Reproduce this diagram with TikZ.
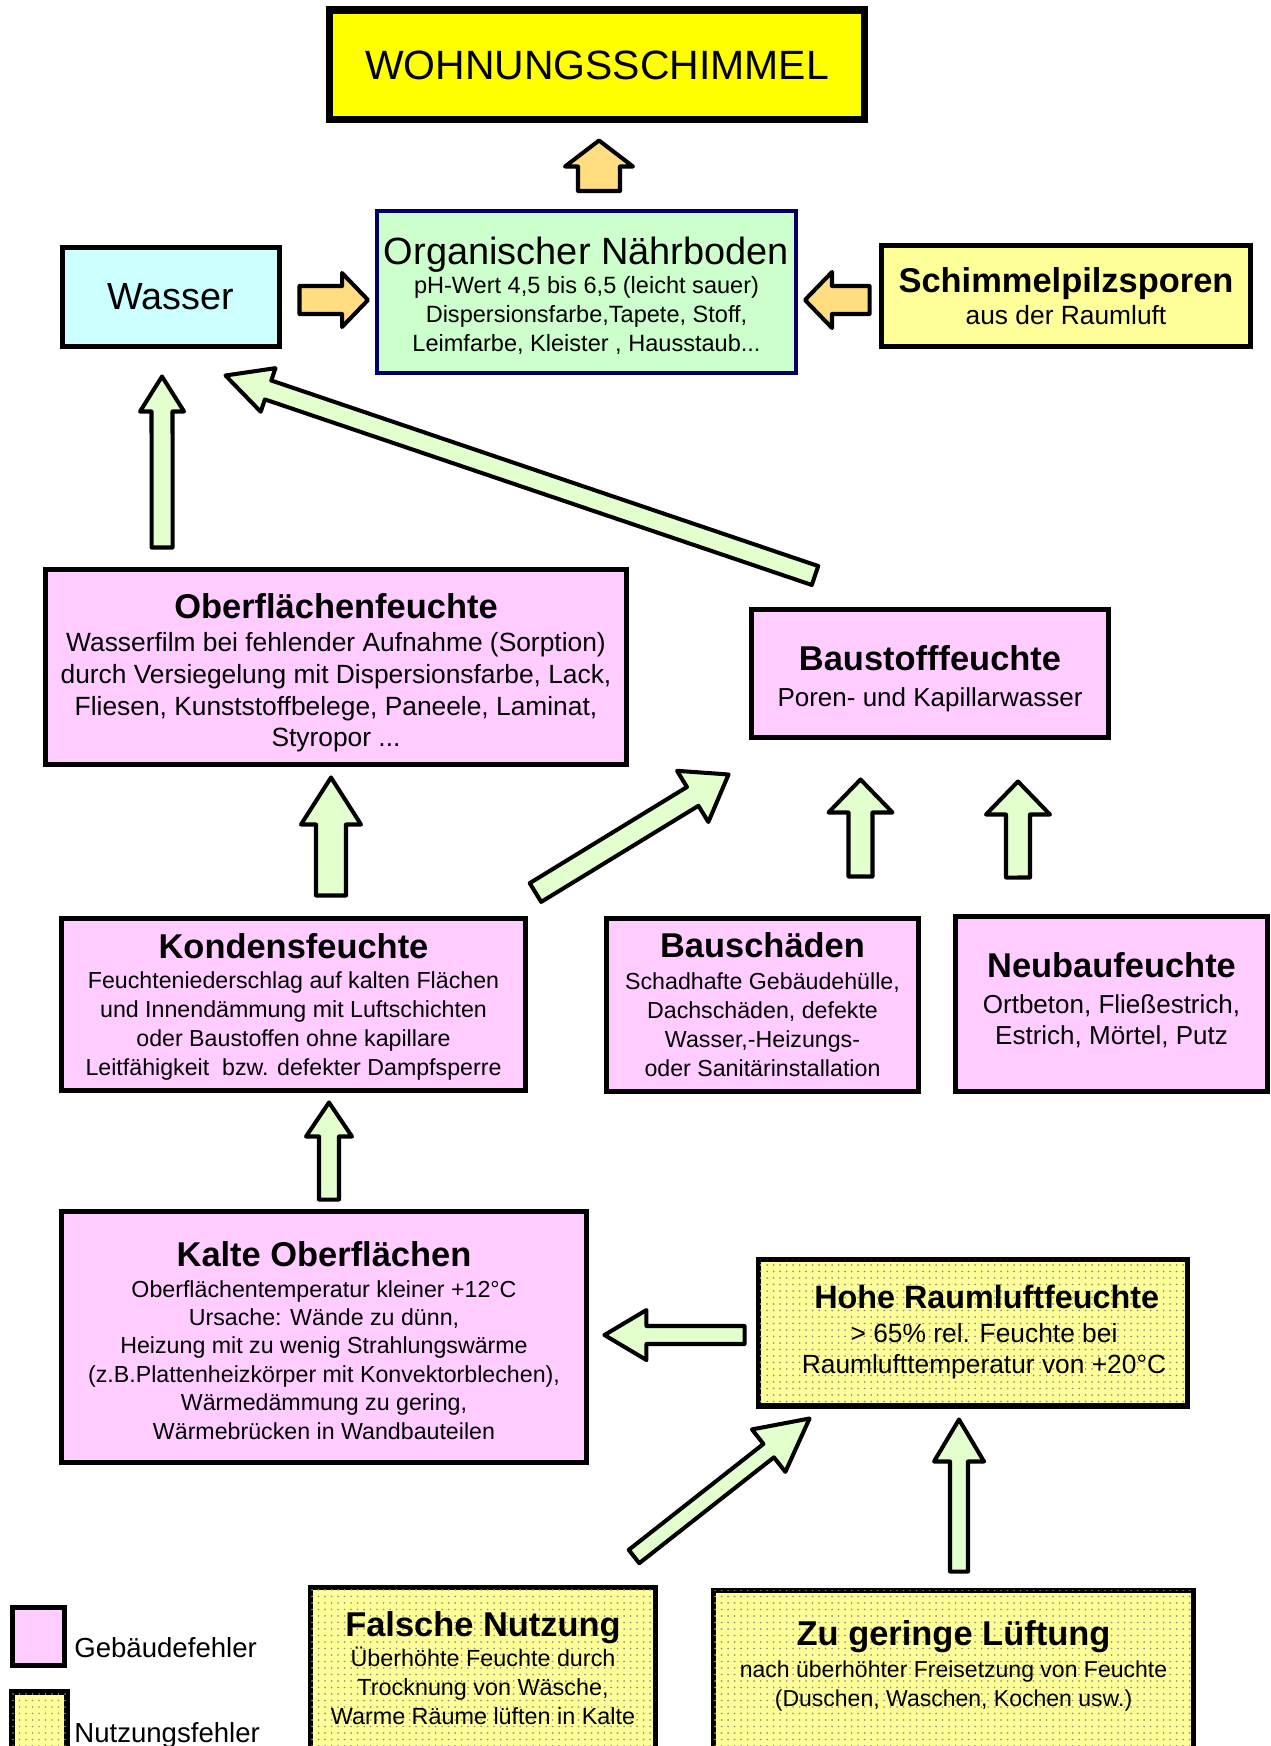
\documentclass[tikz,border=0pt]{standalone}
\usepackage{fontspec}
\setmainfont{Liberation Sans}
\definecolor{schimmel-gelb}{RGB}{255,255,0}
\definecolor{wasser-blau}{RGB}{204,255,255}
\definecolor{naehr-gruen}{RGB}{204,255,204}
\definecolor{naehr-rand}{RGB}{0,0,102}
\definecolor{sporen-gelb}{RGB}{255,255,153}
\definecolor{bau-rosa}{RGB}{255,204,255}
\definecolor{pfeil-gruen}{RGB}{228,255,206}
\definecolor{pfeil-orange}{RGB}{255,221,128}
\definecolor{punkt-grau}{RGB}{150,150,120}
\usetikzlibrary{calc,patterns.meta}
\newcommand\titel{\fontsize{19.6}{22}\selectfont\bfseries}

\begin{document}
\begin{tikzpicture}[x=0.02cm,y=-0.02cm,
        kasten/.style={draw=black,line width=2.85pt,align=center,inner sep=0pt},
        bau/.style={kasten,fill=bau-rosa},
        nutzung/.style={kasten,fill=sporen-gelb,
            postaction={pattern={Dots[distance=3.7pt,radius=0.55pt]},pattern color=punkt-grau}},
        blockpfeil/.style n args={3}{draw=black,line width=2.3pt,line join=round,fill=pfeil-gruen,
            to path={let \p1=(\tikztostart), \p2=(\tikztotarget),
                \n1={atan2(\y2-\y1,\x2-\x1)} in
                ($(\p1)+({\n1-90}:{#1*0.02cm})$)
                -- ($(\p2)+({\n1+180}:{#3*0.02cm})+({\n1-90}:{#1*0.02cm})$)
                -- ($(\p2)+({\n1+180}:{#3*0.02cm})+({\n1-90}:{#2*0.02cm})$)
                -- (\p2)
                -- ($(\p2)+({\n1+180}:{#3*0.02cm})+({\n1+90}:{#2*0.02cm})$)
                -- ($(\p2)+({\n1+180}:{#3*0.02cm})+({\n1+90}:{#1*0.02cm})$)
                -- ($(\p1)+({\n1+90}:{#1*0.02cm})$) -- cycle}}
        ]
    \useasboundingbox (0,0) rectangle (1270,1746);
    %
    \node[kasten,fill=schimmel-gelb,line width=4pt,minimum width=10.7cm,minimum height=2.2cm,
        font=\fontsize{23.3}{28}\selectfont] (schimmel) at (597,65) {WOHNUNGSSCHIMMEL};
    \node[kasten,fill=wasser-blau,minimum width=4.36cm,minimum height=2cm,
        font=\fontsize{21.5}{24}\selectfont] (wasser) at (171,297) {Wasser};
    \node[kasten,draw=naehr-rand,line width=2.3pt,fill=naehr-gruen,minimum width=8.38cm,minimum height=3.24cm,
        font=\fontsize{13.4}{16.5}\selectfont] (naehr) at (586.5,292)
        {\rule{0pt}{19.6pt}{\fontsize{21.6}{26}\selectfont Organischer Nährboden}\\
         pH-Wert 4,5 bis 6,5 (leicht sauer)\\
         Dispersionsfarbe,Tapete, Stoff,\\
         Leimfarbe, Kleister , Hausstaub...};
    \node[kasten,fill=sporen-gelb,minimum width=7.4cm,minimum height=2.04cm,
        font=\fontsize{15}{17}\selectfont] (sporen) at (1066,296)
        {{\titel Schimmelpilzsporen}\\[1pt] aus der Raumluft};
    %
    \node[bau,minimum width=11.64cm,minimum height=3.92cm,font=\fontsize{15}{18}\selectfont] (oberfl) at (336,667)
        {\rule{0pt}{20.7pt}{\titel Oberflächenfeuchte}\\[1.1pt]
         Wasserfilm bei fehlender Aufnahme (Sorption)\\
         durch Versiegelung mit Dispersionsfarbe, Lack,\\
         Fliesen, Kunststoffbelege, Paneele, Laminat,\\
         Styropor ...};
    \node[bau,minimum width=7.16cm,minimum height=2.58cm,font=\fontsize{14.8}{18}\selectfont] (baustoff) at (930,673.5)
        {\rule{0pt}{20pt}{\titel Baustofffeuchte}\\[2.3pt] Poren- und Kapillarwasser};
    %
    \node[bau,minimum width=9.3cm,minimum height=3.46cm,font=\fontsize{13.2}{16.5}\selectfont] (kondens) at (293.5,1004.5)
        {\rule{0pt}{16.8pt}{\titel Kondensfeuchte}\\[1pt]
         Feuchteniederschlag auf kalten Flächen\\
         und Innendämmung mit Luftschichten\\
         oder Baustoffen ohne kapillare\\
         Leitfähigkeit~ bzw. defekter Dampfsperre};
    \node[bau,minimum width=6.26cm,minimum height=3.48cm,font=\fontsize{13.2}{16.5}\selectfont] (bauschaden) at (762.5,1005)
        {{\titel Bauschäden}\\[1.6pt]
         Schadhafte Gebäudehülle,\\
         Dachschäden, defekte\\
         Wasser,-Heizungs-\\
         oder Sanitärinstallation};
    \node[bau,minimum width=6.26cm,minimum height=3.52cm,font=\fontsize{14.8}{18}\selectfont] (neubau) at (1111.5,1004)
        {{\titel Neubaufeuchte}\\[2.3pt] Ortbeton, Fließestrich,\\ Estrich, Mörtel, Putz\rule[-6pt]{0pt}{0pt}};
    %
    \node[bau,minimum width=10.52cm,minimum height=5.04cm,font=\fontsize{13.2}{16.2}\selectfont] (kalte) at (324,1337)
        {\rule{0pt}{18.1pt}{\titel Kalte Oberflächen}\\[1.3pt]
         Oberflächentemperatur kleiner +12°C\\
         Ursache: Wände zu dünn,\\
         Heizung mit zu wenig Strahlungswärme\\
         (z.B.Plattenheizkörper mit Konvektorblechen),\\
         Wärmedämmung zu gering,\\
         Wärmebrücken in Wandbauteilen};
    \node[nutzung,minimum width=8.6cm,minimum height=2.94cm,font=\fontsize{15}{17.6}\selectfont] (hohe) at (973,1332.5)
        {\hspace*{0.55cm}{\fontsize{18.4}{21}\selectfont\bfseries Hohe Raumluftfeuchte}\\[1.6pt]
         \hspace*{0.44cm}> 65\% rel. Feuchte bei\\
         \hspace*{0.44cm}Raumlufttemperatur von +20°C\rule[-4pt]{0pt}{0pt}};
    %
    \node[nutzung,minimum width=6.92cm,minimum height=3.4cm,text depth=4.5pt,
        font=\fontsize{13.3}{16.5}\selectfont] (falsch) at (483,1672)
        {{\titel Falsche Nutzung}\\[1pt]
         Überhöhte Feuchte durch\\
         Trocknung von Wäsche,\\
         Warme Räume lüften in Kalte};
    \node[nutzung,minimum width=9.62cm,minimum height=3.34cm,text depth=11pt,
        font=\fontsize{13.1}{16.5}\selectfont] (lueftung) at (953.5,1673.5)
        {{\titel Zu geringe Lüftung}\\[1.6pt]
         nach überhöhter Freisetzung von Feuchte\\
         (Duschen, Waschen, Kochen usw.)};
    %
    \node[bau,minimum width=1.06cm,minimum height=1.16cm] (legGeb) at (38.5,1636) {};
    \node[anchor=base west,inner sep=0pt,font=\fontsize{15.7}{19}\selectfont] (legGebText) at (74,1657) {Gebäudefehler};
    \node[nutzung,line width=3.4pt,minimum width=1.1cm,minimum height=1.4cm] (legNutz) at (39.5,1727) {};
    \node[anchor=base west,inner sep=0pt,font=\fontsize{15.7}{19}\selectfont] (legNutzText) at (74,1742) {Nutzungsfehler};
    %
    \draw[blockpfeil={21}{34}{26},fill=pfeil-orange] ($(naehr.north)+(12.5,-18)$) to ($(schimmel.south)+(2,17)$);
    \draw[blockpfeil={14}{27}{26},fill=pfeil-orange] ($(wasser.east)+(17,3)$) to ($(naehr.west)+(-7,8)$);
    \draw[blockpfeil={14}{28}{27},fill=pfeil-orange] ($(sporen.west)+(-9,4)$) to ($(naehr.east)+(7,8)$);
    %
    \draw[blockpfeil={10.5}{22}{35}] ($(oberfl.north west)+(119.5,-19)$) to ($(wasser.south)+(-9,27)$);
    \draw[blockpfeil={10}{23}{45}] ($(baustoff.north)+(-115,-31)$) to ($(wasser.south east)+(-57,26)$);
    \draw[blockpfeil={15}{30}{47}] ($(kondens.north)+(37.5,-20)$) to ($(oberfl.south)+(-5,10)$);
    \draw[blockpfeil={11}{30}{42}] ($(kondens.north east)+(7,-23)$) to ($(baustoff.south west)+(-20,34)$);
    \draw[blockpfeil={12}{32}{33}] ($(bauschaden.north)+(98,-39)$) to ($(baustoff.south)+(-69.5,39)$);
    \draw[blockpfeil={12}{32}{33}] ($(neubau.north)+(-93.5,-36)$) to ($(baustoff.south east)+(-93.5,41)$);
    \draw[blockpfeil={10}{23}{34}] ($(kalte.north)+(5,-9)$) to ($(kondens.south)+(35.5,9)$);
    \draw[blockpfeil={9}{25}{42}] ($(hohe.west)+(-11,2.5)$) to ($(kalte.east)+(15,-2)$);
    \draw[blockpfeil={8.5}{27}{52}] ($(falsch.north)+(151,-28)$) to ($(hohe.south west)+(54,10)$);
    \draw[blockpfeil={9}{25}{42}] ($(lueftung.north)+(5.5,-16)$) to ($(hohe.south)+(-14,11)$);
\end{tikzpicture}
\end{document}
